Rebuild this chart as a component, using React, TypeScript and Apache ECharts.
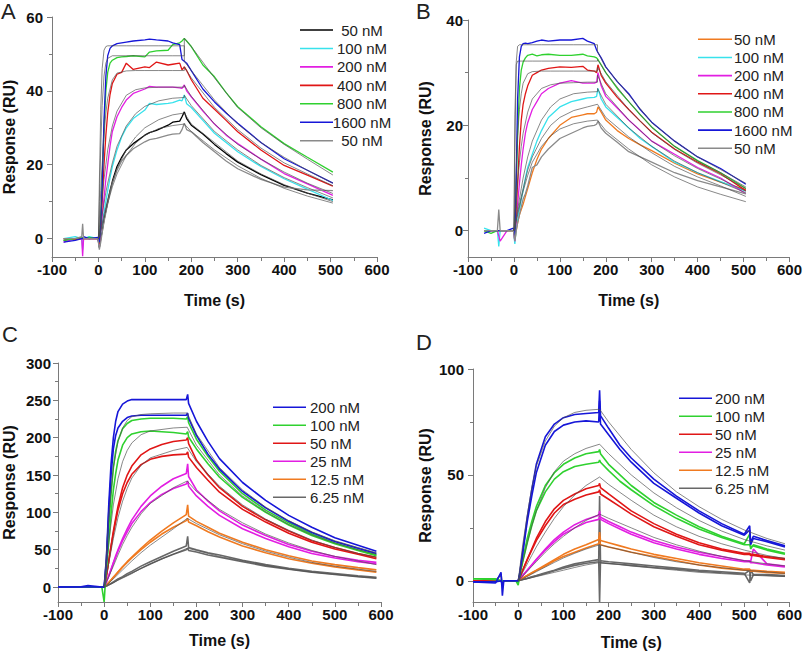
import React, { useEffect, useRef } from "react";
import * as echarts from "echarts";

// ---------------- Panel A ----------------
const tA = [-75, -50, -36, -34, -32, -20, -1, 2, 5, 8, 12, 16, 20, 25, 30, 40, 50, 60, 75, 100, 110, 125, 150, 160, 175, 180, 185, 190, 200, 225, 250, 275, 300, 350, 400, 450, 505];
const a50 = [-0.5, 0, 0, 0, 0, 0, 0, -2.5, 0, 2, 5, 7.5, 10, 13, 15.5, 19.5, 22, 24, 25.7, 28, 28.7, 29.3, 30.7, 31.5, 31.8, 33, 34.3, 32.5, 30.7, 28.3, 25.5, 23, 20.7, 17.3, 14.4, 12.3, 10.5];
const a100 = [0, 0.5, 0, -3, 0, 0.5, 0, -2, 1.5, 4, 7, 10, 13, 16.5, 19.5, 24, 27.5, 30, 32.5, 34.8, 36.6, 36.3, 36.6, 36.8, 37.5, 37.3, 38.9, 36.5, 35.5, 32, 28.5, 26, 23.5, 19.5, 16.2, 13.4, 10.3];
const a200 = [-1, 0, 0, -4.8, 0, 0, 0, -2, 2, 6, 11, 16, 20, 25, 29, 33, 35.5, 37.5, 39.3, 40.5, 41.2, 41, 41, 41, 40.8, 40.7, 41.6, 40, 38.4, 34.5, 31, 28, 25.7, 21.5, 17.6, 14.8, 11.7];
const a400 = [0, -0.3, 0.2, 0, 0, 0, 0, -1.5, 3, 10, 20, 28, 34, 39, 42, 44.5, 45, 47.5, 45.8, 46.5, 46.3, 47.8, 47, 47.2, 47.5, 45.7, 46.5, 45.5, 43, 38, 35, 32, 28.9, 24, 19.8, 17.2, 14.2];
const a800 = [-0.5, 0, 0.3, 0, 0, 0.3, 0, -1, 5, 16, 30, 40, 45, 47.5, 48.3, 49, 49.2, 49.3, 49.5, 49.2, 50.5, 50.8, 51, 52.5, 53, 53.5, 54.2, 53.5, 52, 47, 43.8, 39.5, 35.7, 30.3, 25.7, 22, 18];
const a1600 = [-1, -0.5, 0, 0, 0.5, 0, 0.3, -1, 4, 14, 32, 44, 49.5, 51.5, 52.2, 52.8, 53, 53.2, 53.5, 53.8, 54, 53.8, 53.5, 53, 52.5, 48.5, 48, 47.5, 45.5, 40.5, 37, 34, 31.2, 26, 21.6, 18.5, 15];
const a50b = [0, 0, 0.5, 4, 0, 0, 0, -3, -1, 1.5, 4.5, 7, 9.5, 12.5, 15, 18.5, 21, 22.5, 24.3, 26.2, 26.8, 27.1, 28, 28.3, 28.4, 29.5, 31.2, 29.5, 28.9, 26, 23.5, 21, 18.9, 16, 13.9, 13.2, 13];

const tAfit = [0, 2, 5, 8, 12, 16, 20, 30, 40, 60, 80, 100, 130, 160, 185, 185, 200, 250, 300, 350, 400, 450, 505];
const fA1600 = [0, 15, 35, 46, 51, 52, 52.2, 52.2, 52.2, 52.2, 52.2, 52.2, 52.2, 52.2, 52.2, 48, 45.5, 37.5, 31, 26, 22, 18.5, 15];
const fA800 = [0, 10, 25, 36, 44, 47.5, 48.8, 49.5, 49.5, 49.5, 49.5, 49.5, 49.5, 49.5, 49.5, 54.2, 52, 43.5, 35.5, 30, 25.5, 21.5, 17.2];
const fA400 = [0, 5, 13, 20, 28, 34, 38, 43, 44.8, 45.4, 45.5, 45.5, 45.5, 45.5, 45.5, 46.5, 43.5, 35.5, 29.5, 24.5, 20.5, 17.5, 14.3];
const fA200 = [0, 3, 7, 11, 16, 20, 24, 30.5, 34.5, 38.8, 40.3, 40.8, 41, 41, 41, 41.5, 38.5, 31, 25.5, 21.5, 18, 15, 12.2];
const fA100 = [0, 1.5, 4, 6.5, 9.5, 12.5, 15, 20.5, 25, 30.5, 33.8, 35.8, 37.3, 38, 38.2, 38.8, 36, 29, 24, 19.8, 16.5, 13.8, 11];
const fA50 = [0, 1, 2.5, 4, 6.5, 8.5, 10.5, 15, 19, 24, 27.5, 30, 32.2, 33.5, 34, 34, 31, 26, 21, 17.5, 14.6, 12.3, 10];
const fA50b = [0, 0.8, 2, 3.5, 5.5, 7.5, 9.5, 14, 17.5, 22.5, 25.8, 28, 29.8, 30.6, 31, 31, 29, 24, 19.7, 16.3, 13.6, 11.5, 9.6];

// ---------------- Panel B ----------------
const tB = [-65, -50, -36, -33, -30, -15, -1, 2, 5, 8, 12, 16, 20, 25, 30, 40, 50, 60, 75, 100, 125, 150, 160, 175, 180, 183, 190, 200, 225, 250, 275, 300, 350, 400, 450, 505];
const b50 = [0, 0, 0, 0, 0, 0, 0, -2, 0, 1.5, 3, 4, 5, 6.5, 8, 11, 13.5, 15.5, 17.5, 20, 21.5, 22, 22.2, 22.2, 22.5, 23.5, 22.5, 21, 19, 17.5, 16.3, 15.2, 12.8, 10.8, 9.2, 7.8];
const b100 = [0.5, 0, 0, -3, 0, 0, 0, -2.5, 0.5, 2, 4, 6, 7.6, 10, 12, 14.5, 17, 19, 21.5, 23.5, 24.5, 25, 25.2, 25.3, 25.5, 27, 25, 23.5, 21.5, 19.5, 17.5, 16, 13, 11, 9.3, 7.5];
const b200 = [0, 0, 0, -1, -2, 0, 0, -2, 2, 5, 9, 12.5, 15.5, 18.5, 20.5, 23, 24.5, 26, 27, 28, 28.5, 28, 28, 28, 28.2, 30, 27.5, 25.5, 23.3, 21, 19, 17, 14.5, 12, 10, 7];
const b400 = [0, 0, 0, 0, 0, 0, 0, -1, 4, 9, 16, 21, 24, 26, 27.5, 29.5, 30, 30.5, 30.8, 31.1, 31, 31.2, 30.5, 30.3, 30, 31.5, 29.5, 28, 25.3, 23, 20.8, 18.7, 15.5, 13, 10.8, 7.6];
const b800 = [0, -0.5, 0, 0, 0, 0, 0, -1, 8, 18, 27, 30.5, 32, 32.8, 33.3, 33.5, 33.2, 33.4, 33.5, 33.3, 33.3, 33.5, 33.2, 33, 32.8, 32.5, 31.5, 30, 27, 24.5, 22, 19.7, 16, 13.3, 11, 8];
const b1600 = [-0.5, 0, 0, 0, 0, 0, 0.5, -1, 10, 25, 33, 35, 35.5, 35.6, 35.5, 35.7, 36, 36.2, 36, 36.2, 36.2, 36.5, 36, 35.5, 34.3, 33.8, 32.8, 31.1, 28.3, 26, 23, 20.6, 17, 14, 11.8, 8.8];
const b50b = [0, 0, 0, 4, 0, 0, 0, -2, 0, 1.5, 3, 4.5, 6, 7, 8.5, 12, 12.5, 14, 15.5, 17.5, 18.5, 19.5, 19.8, 20, 20.2, 20.8, 19.5, 18.5, 16.8, 15, 14, 13, 11, 9.5, 8.3, 7];

const tBfit = [0, 2, 5, 8, 12, 16, 20, 30, 40, 60, 80, 100, 130, 160, 182, 182, 200, 250, 300, 350, 400, 450, 505];
const fB1600 = [0, 15, 32, 35, 35.3, 35.3, 35.3, 35.3, 35.3, 35.3, 35.3, 35.3, 35.3, 35.3, 35.3, 34, 31, 25.8, 20.5, 17, 14, 11.6, 9];
const fB800 = [0, 22, 31.5, 32.2, 32.2, 32.2, 32.2, 32.2, 32.2, 32.2, 32.2, 32.2, 32.2, 32.2, 32.2, 32.5, 30, 24.5, 19.6, 16, 13.2, 11, 8.3];
const fB400 = [0, 5, 12, 18, 23, 26, 28, 29.8, 30.2, 30.3, 30.3, 30.3, 30.3, 30.3, 30.3, 31, 28.3, 23, 18.6, 15.4, 12.8, 10.6, 8];
const fB200 = [0, 2.5, 6, 9, 13, 16, 18.5, 22.5, 25, 27, 27.7, 28, 28.1, 28.2, 28.2, 29.5, 26, 21, 17, 14.2, 11.8, 9.8, 7.5];
const fB100 = [0, 1, 2.5, 4, 6, 8, 10, 14, 17, 21, 23.5, 25, 26, 26.3, 26.4, 27, 24, 19.5, 16, 13.2, 11, 9.2, 7.2];
const fB50 = [0, 0.7, 2, 3.5, 5, 6.5, 8, 11.5, 14, 17.5, 20, 21.5, 22.8, 23.5, 24, 24, 21.5, 17.8, 14.8, 12.2, 10.2, 8.5, 6.5];
const fB50b = [0, 0.7, 1.8, 3, 4.5, 6, 7.5, 10.5, 13, 16, 18, 19.3, 20.3, 20.8, 21, 21, 19, 15.5, 12.5, 10.2, 8.3, 6.9, 5.5];

// ---------------- Panel C ----------------
const tC = [-100, -50, -35, -5, 0, 5, 10, 15, 20, 25, 30, 40, 50, 60, 80, 100, 125, 150, 178, 181, 183, 200, 225, 250, 300, 350, 400, 450, 500, 550, 590];
const c200a = [0, 0.5, 2, 0, 0, 40, 110, 165, 200, 222, 235, 245, 249, 251, 251, 251, 251, 251, 251, 258, 246, 222, 195, 172, 140, 116, 96, 80, 66, 56, 48];
const c200b = [0, 0, 0, 0, 0, 35, 100, 150, 185, 203, 213, 222, 227, 229, 230, 230, 230, 230, 230, 233, 226, 203, 178, 158, 128, 106, 88, 73, 61, 52, 45];
const c100a = [0, 0, 0, 0, -20, 30, 80, 125, 160, 182, 196, 212, 219, 223, 225, 226, 226, 226, 225, 228, 220, 198, 175, 155, 125, 103, 86, 71, 59, 50, 43];
const c100b = [0, 0, 0, 0, 0, 25, 60, 98, 130, 152, 170, 190, 200, 205, 208, 209, 208, 207, 205, 208, 201, 185, 165, 147, 120, 100, 83, 69, 58, 49, 42];
const c50a = [0, 0.5, 0, 0, 0, 15, 35, 55, 75, 92, 108, 133, 150, 162, 177, 185, 191, 195, 197, 200, 192, 170, 150, 133, 108, 90, 75, 62, 53, 45, 40];
const c50b = [0, 0, 0, 0, 0, 15, 35, 54, 72, 88, 103, 125, 140, 151, 164, 171, 175, 177, 178, 181, 174, 160, 143, 127, 104, 87, 72, 60, 51, 44, 38];
const c25a = [0, 0, 0, 0, 0, 7, 15, 24, 33, 42, 50, 65, 78, 90, 108, 122, 135, 145, 152, 165, 148, 130, 115, 102, 83, 69, 57, 48, 41, 36, 33];
const c25b = [0, 0, 0, 0, 0, 7, 15, 23, 32, 40, 48, 62, 74, 85, 101, 113, 124, 132, 138, 142, 135, 122, 108, 96, 78, 65, 54, 45, 39, 34, 31];
const c12a = [0, 0, 0, 0, 0, 3, 6, 9.5, 13, 16.5, 20, 27, 34, 40, 52, 63, 75, 86, 97, 110, 95, 88, 80, 72, 60, 50, 42, 35, 30, 26, 23];
const c12b = [0, 0, 0, 0, 0, 3, 6, 9.5, 13, 16.5, 20, 27, 33, 39, 50, 60, 71, 80, 89, 92, 87, 82, 74, 67, 55, 46, 38, 32, 27, 23, 20];
const c6a = [0, 0, 0, 0, 0, 1.5, 3, 5, 7, 9, 11, 14, 18, 21, 28, 34, 41, 48, 55, 68, 53, 50, 46, 43, 36, 30, 25, 21, 18, 15, 13];
const c6b = [0, 0, 0, 0, 0, 1.5, 3, 4.5, 6, 8, 10, 13, 16, 19, 25, 31, 38, 44, 50, 52, 49, 47, 43, 40, 34, 28, 24, 20, 17, 14, 12];

const tCfit = [0, 10, 20, 30, 40, 50, 60, 80, 100, 150, 180, 200, 250, 300, 350, 400, 450, 500, 550, 590];
const fC200 = [0, 95, 160, 195, 213, 223, 228, 231, 232, 233, 233, 205, 160, 130, 107, 89, 74, 62, 53, 46];
const fC100 = [0, 60, 110, 145, 168, 183, 193, 204, 209, 213, 214, 190, 150, 122, 101, 84, 70, 59, 50, 44];
const fC50 = [0, 32, 65, 93, 115, 132, 146, 163, 173, 183, 187, 168, 135, 110, 91, 76, 63, 53, 45, 40];
const fC25 = [0, 14, 28, 43, 57, 69, 80, 98, 112, 133, 142, 128, 104, 86, 71, 59, 49, 41, 35, 30];
const fC12 = [0, 5, 11, 17, 23, 29, 35, 46, 56, 78, 92, 85, 70, 58, 48, 40, 33, 28, 24, 21];
const fC6 = [0, 3, 6, 9, 12, 15, 18, 25, 31, 44, 52, 49, 41, 35, 29, 24, 20, 17, 14, 12];

// ---------------- Panel D ----------------
const tD = [-100, -50, -38, -35, -32, -5, 0, 3, 10, 20, 30, 40, 60, 80, 100, 125, 150, 178, 180, 182, 200, 225, 250, 300, 350, 400, 450, 500, 512, 514, 520, 550, 590];
const d200a = [-0.5, -1, 4, -7, 0, 0, 0, 3, 14, 30, 43, 55, 68, 74, 77, 78.5, 79, 79.5, 90, 78, 72, 64, 58, 48, 40, 33, 27, 22, 26, 18, 21, 19, 16.5];
const d200b = [-0.5, -0.5, 0, -2, 0, 0, 0, 3, 13, 28, 40, 51, 64, 70.5, 73.5, 75, 75.5, 75, 85, 74, 69, 62, 56, 46, 39, 32, 26, 21.5, 24, 17, 20, 18.5, 16];
const d100a = [1, 1, 0, 0, 0, 0, -2, 3, 10, 20, 28, 35, 45, 51, 55, 58, 60, 61, 62, 60, 55, 50, 45, 37, 31, 25.5, 21, 17.5, 22, 15, 17, 15, 13];
const d100b = [1, 0.5, 0, 0, 0, 0, -1, 2, 9, 18, 26, 33, 42, 48, 51.5, 54, 55, 56, 57, 56, 52, 47, 43, 35.5, 29.5, 24.5, 20.5, 17, 17, 16, 16.5, 14.5, 12.5];
const d50a = [0, 0, 0, 0, 0, 0, 0, 1.5, 5, 10, 15, 20, 28, 34, 38, 41, 43.5, 45, 46, 44, 41, 37, 33, 27, 22, 18, 15, 13, 13, 12.5, 12.5, 11.5, 10.5];
const d50b = [0, 0, 0, 0, 0, 0, 0, 1.5, 5, 10, 14.5, 19, 26, 32, 36, 38.5, 40.5, 42, 43, 41, 38.5, 35, 31.5, 25.5, 21, 17, 14.5, 12.5, 12.5, 12, 12, 11, 10];
const d25a = [0, 0, 0, 0, 0, 0, 0, 1, 2.5, 5, 7.5, 10, 15, 19.5, 23, 26.5, 29, 31, 33, 30, 28, 25.5, 23, 19, 16, 13.5, 11.5, 9.5, 9.5, 9, 15, 8, 7];
const d25b = [0, 0, 0, 0, 0, 0, 0, 1, 2.5, 5, 7.5, 10, 14.5, 18.5, 22, 25, 27.5, 29, 30, 29, 27, 24.5, 22, 18, 15, 12.5, 10.5, 9, 9, 8.5, 8.5, 7.5, 6.5];
const d12a = [0, 0, 0, 0, 0, 0, 0, 0.5, 1.3, 2.5, 3.8, 5, 7.5, 10, 12.5, 15, 17, 19.5, 23, 19, 18, 16.5, 15, 12.5, 10.5, 8.5, 7, 5.5, 5.5, 5, 5, 4.5, 4];
const d12b = [0, 0, 0, 0, 0, 0, 0, 0.5, 1.3, 2.5, 3.6, 4.8, 7, 9.5, 11.5, 13.5, 15.5, 17.5, 19, 17, 16, 14.8, 13.5, 11.5, 9.5, 7.5, 6, 5, 5, 4.5, 4.5, 4, 3.5];
const d6a = [0, 0, 3, -2, 0, 0, 0, 0.3, 0.6, 1.2, 1.9, 2.5, 3.8, 5, 6.5, 8, 9, 10, -10, 9.5, 9, 8.5, 8, 7, 6, 5, 4.3, 3.5, -1, 5, 3, 3, 2.5];
const d6b = [0, 0, 0, 0, 0, 0, 0, 0.3, 0.6, 1.1, 1.7, 2.3, 3.5, 4.8, 6, 7.3, 8.3, 9, 40, 8.5, 8.2, 7.8, 7.3, 6.3, 5.5, 4.5, 3.8, 3.2, 5, 0, 2.8, 2.7, 2.2];

const tDfit = [0, 10, 20, 30, 40, 60, 80, 100, 125, 150, 180, 200, 250, 300, 350, 400, 450, 500, 550, 590];
const fD200 = [0, 17, 31, 44, 54, 66, 73, 77, 79.5, 80.5, 81, 75, 62, 51, 42, 35, 29, 24, 20, 17.5];
const fD100 = [0, 9, 18, 26, 33, 44, 51.5, 56.5, 60, 62.5, 64.5, 60, 50, 41.5, 34.5, 28.5, 23.5, 19.5, 16.5, 14.5];
const fD50 = [0, 4, 8, 12, 16, 23, 29.5, 35, 40.5, 45, 49, 45.5, 38, 31, 25.5, 21, 17.5, 14.5, 12, 10.5];
const fD25 = [0, 2.3, 4.5, 6.8, 9, 13.5, 17.5, 21, 25, 28.5, 31.5, 29.5, 25, 20.5, 17, 14, 11.5, 9.5, 8, 7];
const fD12 = [0, 1, 2, 3.2, 4.3, 6.5, 8.7, 10.8, 13, 15, 17, 16, 13.5, 11, 9, 7.5, 6.2, 5, 4.2, 3.5];
const fD6 = [0, 0.5, 1, 1.5, 2, 3, 4, 5, 6.3, 7.5, 8.6, 8.2, 7, 6, 5, 4, 3.4, 2.8, 2.3, 2];

// ---------------- Labels / ticks ----------------
const legendAB_A = ["50 nM", "100 nM", "200 nM", "400 nM", "800 nM", "1600 nM", "50 nM"];
const legendAB_B = ["50 nM", "100 nM", "200 nM", "400 nM", "800 nM", "1600 nM", "50 nM"];
const legendCD = ["200 nM", "100 nM", "50 nM", "25 nM", "12.5 nM", "6.25 nM"];
const panelLetters = ["A", "B", "C", "D"];
const yMajor = [[0, 20, 40, 60], [0, 20, 40], [0, 50, 100, 150, 200, 250, 300], [0, 50, 100]];
const yMinor = [[10, 30, 50], [10, 30], [25, 75, 125, 175, 225, 275], [25, 75]];
const yRange = [[-5, 60], [-5, 40], [-20, 300], [-10, 100]];

// ---------------- Styles ----------------
const COL = {
  black: "#000000",
  cyan: "#38e2ec",
  magenta: "#e21ee2",
  red: "#e01616",
  green: "#2fd12f",
  blue: "#1616d8",
  gray: "#8a8a8a",
  dgray: "#686868",
  orange: "#f07a20",
  fit: "#4e4e4e",
};
const FONT = '"Liberation Sans", Arial, Helvetica, sans-serif';
const AXIS = "#7a7a7a";

const zip = (t: number[], v: number[]) => t.map((x, i) => [x, v[i]]);

function buildOption() {
  const panels = [
    {
      t: tA, tf: tAfit,
      data: [[a50, COL.black], [a100, COL.cyan], [a200, COL.magenta], [a400, COL.red], [a800, COL.green], [a1600, COL.blue], [a50b, COL.gray]],
      fits: [fA1600, fA800, fA400, fA200, fA100, fA50, fA50b],
      legend: legendAB_A,
      legendColors: [COL.black, COL.cyan, COL.magenta, COL.red, COL.green, COL.blue, COL.gray],
    },
    {
      t: tB, tf: tBfit,
      data: [[b50, COL.orange], [b100, COL.cyan], [b200, COL.magenta], [b400, COL.red], [b800, COL.green], [b1600, COL.blue], [b50b, COL.gray]],
      fits: [fB1600, fB800, fB400, fB200, fB100, fB50, fB50b],
      legend: legendAB_B,
      legendColors: [COL.orange, COL.cyan, COL.magenta, COL.red, COL.green, COL.blue, COL.gray],
    },
    {
      t: tC, tf: tCfit,
      data: [[c6a, COL.dgray], [c6b, COL.dgray], [c12a, COL.orange], [c12b, COL.orange], [c25a, COL.magenta], [c25b, COL.magenta], [c50a, COL.red], [c50b, COL.red], [c100a, COL.green], [c100b, COL.green], [c200b, COL.blue], [c200a, COL.blue]],
      fits: [fC200, fC100, fC50, fC25, fC12, fC6],
      legend: legendCD,
      legendColors: [COL.blue, COL.green, COL.red, COL.magenta, COL.orange, COL.dgray],
    },
    {
      t: tD, tf: tDfit,
      data: [[d6a, COL.dgray], [d6b, COL.dgray], [d12a, COL.orange], [d12b, COL.orange], [d25a, COL.magenta], [d25b, COL.magenta], [d50a, COL.red], [d50b, COL.red], [d100a, COL.green], [d100b, COL.green], [d200b, COL.blue], [d200a, COL.blue]],
      fits: [fD200, fD100, fD50, fD25, fD12, fD6],
      legend: legendCD,
      legendColors: [COL.blue, COL.green, COL.red, COL.magenta, COL.orange, COL.dgray],
    },
  ];

  const grids = [
    { left: 52, top: 17, width: 325, height: 240 },
    { left: 468, top: 20, width: 322, height: 237 },
    { left: 57, top: 363, width: 324, height: 239 },
    { left: 473, top: 369, width: 318, height: 233 },
  ];
  const yLabelMargin = [9, 5, 7, 9];
  const yNameGap = [35, 35, 41, 40];
  const xNameGap = [35, 35, 30, 32];
  const legendLayout = [
    { x1: 300, x2: 333, tx: 362, align: "center", y0: 30, dy: 18.45 },
    { x1: 698, x2: 732, tx: 734, align: "left", y0: 39.3, dy: 18.17 },
    { x1: 273, x2: 306, tx: 310, align: "left", y0: 407.3, dy: 18 },
    { x1: 679, x2: 712, tx: 715, align: "left", y0: 398.3, dy: 18 },
  ];
  const letterPos = [[1, 11], [416, 11], [2, 334], [416, 342]];

  const nameStyle = { fontFamily: FONT, fontWeight: "bold" as const, fontSize: 16, color: "#111" };
  const labelStyle = { fontFamily: FONT, fontWeight: "bold" as const, fontSize: 15, color: "#111" };

  const xAxis = grids.map((_, k) => ({
    type: "value", gridIndex: k, min: -100, max: 600, interval: 100,
    axisLine: { show: true, onZero: false, lineStyle: { color: AXIS, width: 1 } },
    axisTick: { show: true, length: 5, lineStyle: { color: AXIS } },
    minorTick: { show: true, splitNumber: 2, length: 4, lineStyle: { color: AXIS } },
    splitLine: { show: false }, minorSplitLine: { show: false },
    axisLabel: { ...labelStyle, margin: 5 },
    name: "Time (s)", nameLocation: "middle", nameGap: xNameGap[k], nameTextStyle: nameStyle,
  }));

  const yAxis: any[] = [];
  grids.forEach((_, k) => {
    yAxis.push({
      type: "value", gridIndex: k, position: "left", min: yRange[k][0], max: yRange[k][1],
      axisLine: { show: true, onZero: false, lineStyle: { color: AXIS, width: 1 } },
      axisTick: { show: true, length: 5, customValues: yMajor[k], lineStyle: { color: AXIS } },
      axisLabel: { ...labelStyle, margin: yLabelMargin[k], customValues: yMajor[k] },
      splitLine: { show: false },
      name: "Response (RU)", nameLocation: "middle", nameGap: yNameGap[k], nameTextStyle: nameStyle,
    });
    yAxis.push({
      type: "value", gridIndex: k, position: "left", min: yRange[k][0], max: yRange[k][1],
      axisLine: { show: false, onZero: false },
      axisTick: { show: true, length: 3, customValues: yMinor[k], lineStyle: { color: AXIS } },
      axisLabel: { show: false },
      splitLine: { show: false },
    });
  });

  const series: any[] = [];
  panels.forEach((p, k) => {
    p.data.forEach(([vals, color]) => {
      series.push({
        type: "line", xAxisIndex: k, yAxisIndex: 2 * k, data: zip(p.t, vals as number[]),
        showSymbol: false, symbol: "none", silent: true, z: 2,
        lineStyle: { color: color as string, width: k < 2 ? 1.3 : 1.6 },
        itemStyle: { color: color as string },
      });
    });
    p.fits.forEach((vals) => {
      series.push({
        type: "line", xAxisIndex: k, yAxisIndex: 2 * k, data: zip(p.tf, vals),
        showSymbol: false, symbol: "none", silent: true, z: 3,
        lineStyle: { color: COL.fit, width: 0.8, opacity: 0.85 },
        itemStyle: { color: COL.fit },
      });
    });
  });

  const graphic: any[] = [];
  panels.forEach((p, k) => {
    const L = legendLayout[k];
    p.legend.forEach((label, i) => {
      const y = L.y0 + L.dy * i;
      graphic.push({ type: "line", silent: true, shape: { x1: L.x1, y1: y, x2: L.x2, y2: y }, style: { stroke: p.legendColors[i], lineWidth: 1.6 } });
      graphic.push({ type: "text", silent: true, x: L.tx, y, style: { text: label, fill: "#222", font: `15px ${FONT}`, textAlign: L.align, textVerticalAlign: "middle" } });
    });
    graphic.push({ type: "text", silent: true, x: letterPos[k][0], y: letterPos[k][1], style: { text: panelLetters[k], fill: "#222", font: `22px ${FONT}`, textAlign: "left", textVerticalAlign: "middle" } });
  });

  return {
    animation: false,
    backgroundColor: "#ffffff",
    grid: grids.map((g) => ({ ...g, containLabel: false })),
    xAxis, yAxis, series, graphic,
  };
}

export default function App() {
  const ref = useRef<HTMLDivElement>(null);
  useEffect(() => {
    const chart = echarts.init(ref.current!, undefined, { renderer: "svg" });
    chart.setOption(buildOption() as any);
    return () => chart.dispose();
  }, []);
  return <div ref={ref} style={{ position: "absolute", left: 0, top: 0, width: 805, height: 654, background: "#fff" }} />;
}
